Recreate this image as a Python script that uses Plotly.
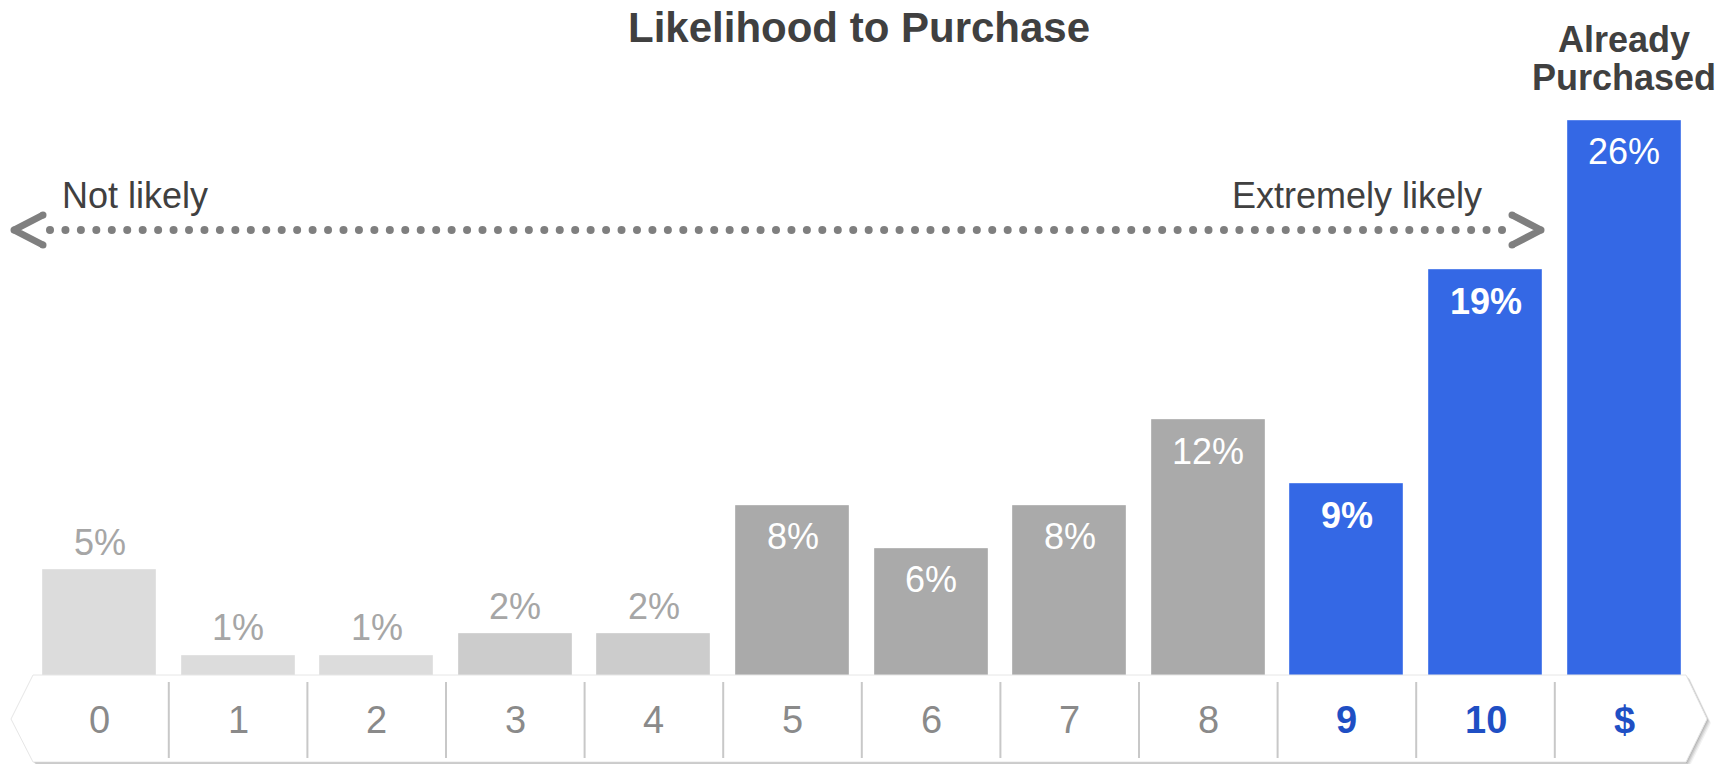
import numpy as np
import plotly.graph_objects as go

W, H = 1734, 764
FONT = "Liberation Sans, Arial, sans-serif"

# Survey data: share of respondents for each point on the 0-10 scale,
# plus those who have already bought ("$").
categories = ["0", "1", "2", "3", "4", "5", "6", "7", "8", "9", "10", "$"]
shares = [5, 1, 1, 2, 2, 8, 6, 8, 12, 9, 19, 26]
groups = ["low", "low", "low", "lowmid", "lowmid",
          "mid", "mid", "mid", "mid", "high", "high", "bought"]

title_text = "Likelihood to Purchase"
left_text = "Not likely"
right_text = "Extremely likely"
bought_text = ["Already", "Purchased"]

GROUP_COLOR = {"low": "#dcdcdc", "lowmid": "#cccccc", "mid": "#aaaaaa",
               "high": "#3468e5", "bought": "#3468e5"}
GROUP_EDGE = {"low": "#e2e2e2", "lowmid": "#d4d4d4", "mid": "#b8b8b8",
              "high": "#5a85ec", "bought": "#5a85ec"}
BLUE_TEXT = "#1f4fc4"
GREY_TEXT = "#8a8a8a"
DARK_TEXT = "#404040"
ARROW = "#7f7f7f"

# pixel geometry of the plotting frame
BASE_PX = 677          # bar baseline
PX_PER_PCT = 21.4
PITCH = 138.6
FIRST_CENTER = 99.5

x_lo = -FIRST_CENTER / PITCH
x_hi = x_lo + W / PITCH
y_max = BASE_PX / PX_PER_PCT

fig = go.Figure()

# bars
fig.add_trace(go.Bar(
    x=categories, y=shares,
    marker=dict(color=[GROUP_COLOR[g] for g in groups],
                line=dict(color=[GROUP_EDGE[g] for g in groups], width=1)),
    width=0.815, cliponaxis=False, hoverinfo="skip", showlegend=False,
    xaxis="x", yaxis="y",
))

# dotted scale arrow (drawn in a pixel-space overlay subplot)
ARROW_Y = 230
dots_x = np.linspace(50, 1502, 95)
fig.add_trace(go.Scatter(
    x=dots_x, y=np.full_like(dots_x, ARROW_Y), mode="markers",
    marker=dict(size=8, color=ARROW), hoverinfo="skip", showlegend=False,
    xaxis="x2", yaxis="y2",
))
for pts in ([(43, 215), (14, 230), (43, 245)],
            [(1512, 215), (1541, 230), (1512, 245)]):
    xs, ys = zip(*pts)
    fig.add_trace(go.Scatter(
        x=xs, y=ys, mode="lines+markers",
        line=dict(color=ARROW, width=7),
        marker=dict(size=7, color=ARROW),
        hoverinfo="skip", showlegend=False, xaxis="x2", yaxis="y2",
    ))

# category strip along the bottom, with a soft shadow
def strip_path(dx=0, dy=0):
    p = [(33, 675), (1686, 675), (1707, 719), (1686, 762), (33, 762), (11, 719)]
    return "M " + " L ".join(f"{x + dx},{y + dy}" for x, y in p) + " Z"

shapes = []
for dx, dy, a in [(4, 4, 0.05), (3, 3, 0.07), (2, 2, 0.09), (1, 1, 0.10)]:
    shapes.append(dict(type="path", path=strip_path(dx, dy), xref="x2", yref="y2",
                       fillcolor=f"rgba(0,0,0,{a})", line=dict(width=0), layer="above"))
shapes.append(dict(type="path", path=strip_path(), xref="x2", yref="y2",
                   fillcolor="white", line=dict(color="#e6e6e6", width=1), layer="above"))
for i in range(len(categories) - 1):
    shapes.append(dict(type="line", xref="x", yref="y2", x0=i + 0.5, x1=i + 0.5,
                       y0=682, y1=758, line=dict(color="#c8c8c8", width=2), layer="above"))

annotations = []

# value labels: above the short bars, inside the top of the tall ones
for c, v, g in zip(categories, shares, groups):
    lab = f"{v}%"
    if g == "high":
        lab = f"<b>{lab}</b>"
    outside = g in ("low", "lowmid")
    annotations.append(dict(
        x=c, xref="x", y=v, yref="y", yanchor="middle", xanchor="center",
        yshift=28 if outside else -31, text=lab, showarrow=False,
        font=dict(family=FONT, size=36, color="#a6a6a6" if outside else "white"),
    ))

# category labels in the strip
for c, g in zip(categories, groups):
    bold = g in ("high", "bought")
    annotations.append(dict(
        x=c, xref="x", y=720, yref="y2", yanchor="middle", xanchor="center",
        text=f"<b>{c}</b>" if bold else c, showarrow=False,
        font=dict(family=FONT, size=38, color=BLUE_TEXT if bold else GREY_TEXT),
    ))

annotations += [
    dict(x=859, y=27, xref="x2", yref="y2", text=f"<b>{title_text}</b>",
         showarrow=False, xanchor="center", yanchor="middle",
         font=dict(family=FONT, size=42, color=DARK_TEXT)),
    dict(x=60, y=195, xref="x2", yref="y2", text=left_text, showarrow=False,
         xanchor="left", yanchor="middle", font=dict(family=FONT, size=36, color=DARK_TEXT)),
    dict(x=1484, y=195, xref="x2", yref="y2", text=right_text, showarrow=False,
         xanchor="right", yanchor="middle", font=dict(family=FONT, size=36, color=DARK_TEXT)),
    dict(x="$", xref="x", y=39, yref="y2", text=f"<b>{bought_text[0]}</b>", showarrow=False,
         xanchor="center", yanchor="middle", font=dict(family=FONT, size=36, color=DARK_TEXT)),
    dict(x="$", xref="x", y=77, yref="y2", text=f"<b>{bought_text[1]}</b>", showarrow=False,
         xanchor="center", yanchor="middle", font=dict(family=FONT, size=36, color=DARK_TEXT)),
]

fig.update_layout(
    width=W, height=H,
    margin=dict(l=0, r=0, t=0, b=0, pad=0),
    paper_bgcolor="white", plot_bgcolor="rgba(0,0,0,0)",
    bargap=0,
    xaxis=dict(type="category", categoryorder="array", categoryarray=categories,
               range=[x_lo, x_hi], domain=[0, 1], visible=False, fixedrange=True),
    yaxis=dict(range=[0, y_max], domain=[(H - BASE_PX) / H, 1], visible=False,
               fixedrange=True),
    xaxis2=dict(range=[0, W], domain=[0, 1], anchor="y2", visible=False, fixedrange=True),
    yaxis2=dict(range=[H, 0], domain=[0, 1], anchor="x2", visible=False, fixedrange=True),
    shapes=shapes,
    annotations=annotations,
)

fig.write_html("out.html")
